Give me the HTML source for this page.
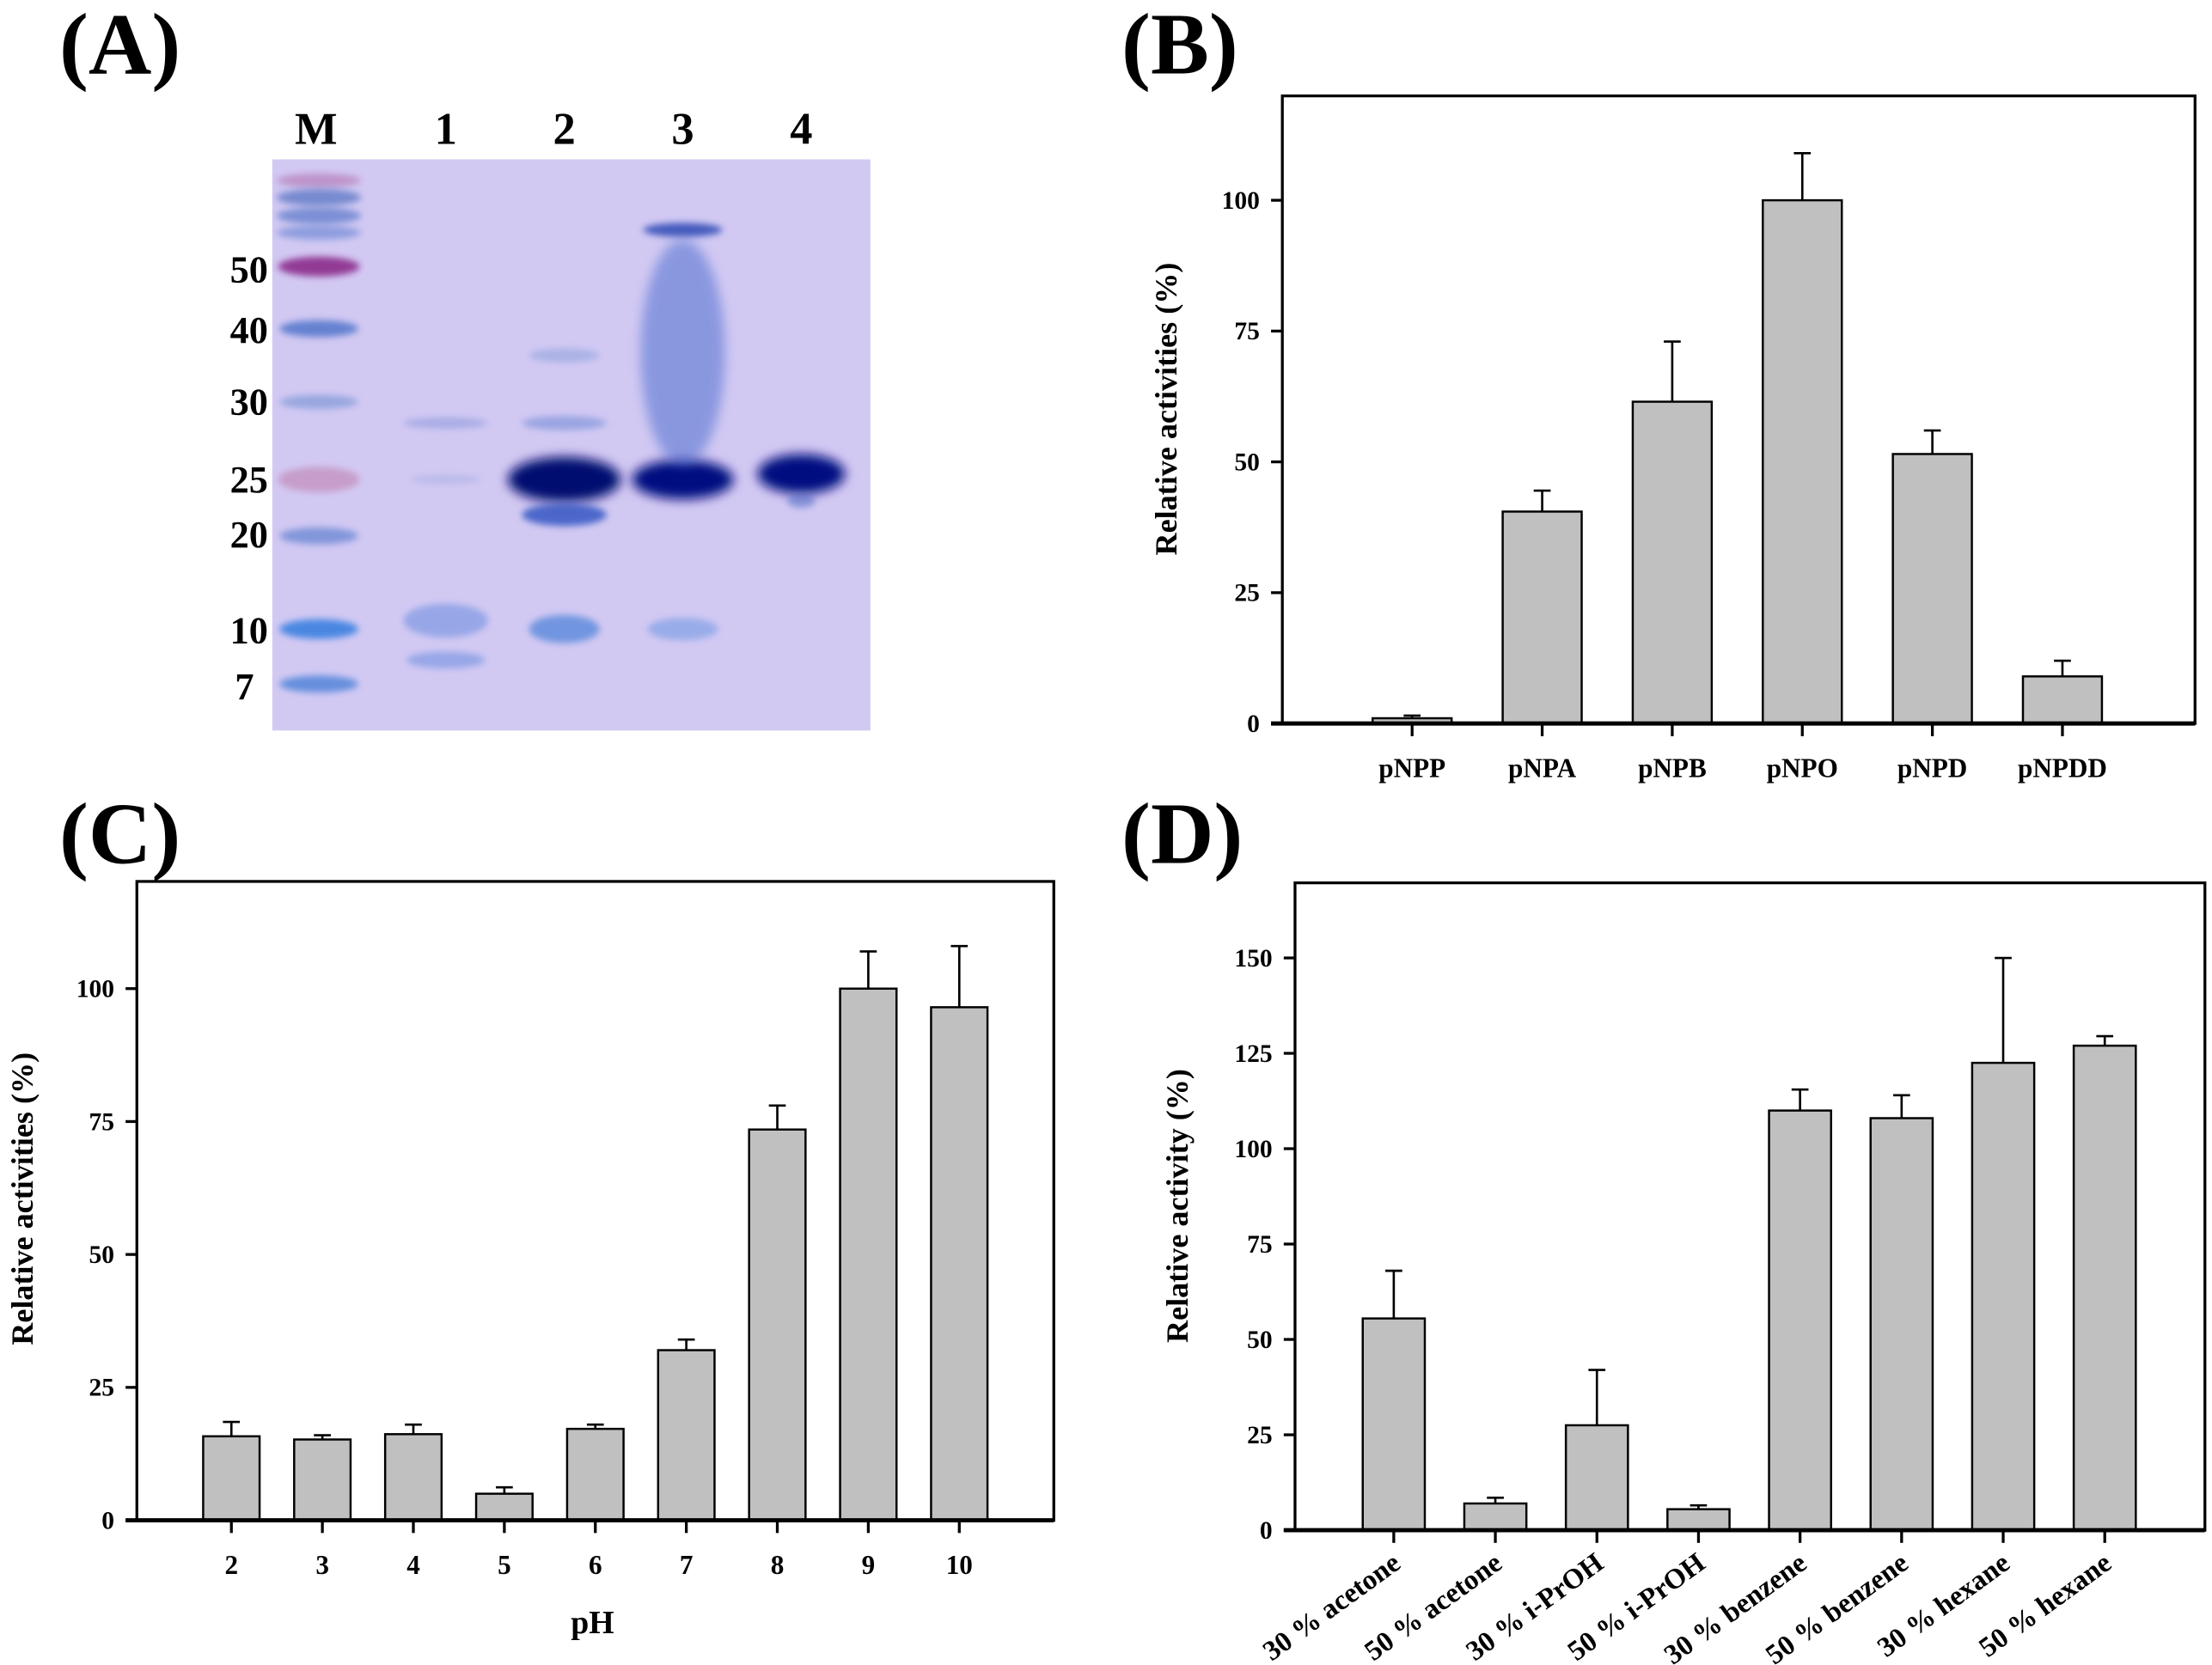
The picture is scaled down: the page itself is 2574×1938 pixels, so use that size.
<!DOCTYPE html>
<html><head><meta charset="utf-8">
<style>
html,body{margin:0;padding:0;background:#fff;}
svg{display:block;}
text{font-family:"Liberation Serif",serif;font-weight:bold;fill:#000;}
</style></head>
<body>
<svg id="fig" width="2574" height="1938" viewBox="0 0 1568 1180.6" xmlns="http://www.w3.org/2000/svg">
<defs>
<filter id="blur" x="-50%" y="-200%" width="200%" height="500%"><feGaussianBlur stdDeviation="4"/></filter>
<filter id="blur2" x="-50%" y="-200%" width="200%" height="500%"><feGaussianBlur stdDeviation="2.5"/></filter>
</defs>
<g id="panelA">
<text x="42" y="52" font-size="62">(A)</text>
<rect x="193" y="113" width="424" height="405" fill="#d2c9f3"/>
<g font-size="32" text-anchor="middle">
<text x="224" y="102">M</text><text x="316" y="102">1</text><text x="400" y="102">2</text><text x="484" y="102">3</text><text x="568" y="102">4</text>
</g>
<g font-size="27" text-anchor="end">
<text x="190" y="200">50</text><text x="190" y="243">40</text><text x="190" y="294">30</text><text x="190" y="349">25</text><text x="190" y="388">20</text><text x="190" y="456">10</text><text x="180" y="496">7</text>
</g>
<g id="bands"></g>
</g>
<text x="795" y="52" font-size="62">(B)</text>
<text x="42" y="612" font-size="62">(C)</text>
<text x="795" y="612" font-size="62">(D)</text>
<g id="chartB"></g>
<g id="chartC"></g>
<g id="chartD"></g>
</svg>
<script>
// Panel B data
const bCategories = ["pNPP","pNPA","pNPB","pNPO","pNPD","pNPDD"];
const bValues = [1, 40.5, 61.5, 100, 51.5, 9];
const bErrTop = [1.5, 44.5, 73, 109, 56, 12];
const bTicks = [0, 25, 50, 75, 100];
// Panel C data
const cCategories = ["2","3","4","5","6","7","8","9","10"];
const cValues = [15.8, 15.2, 16.2, 5, 17.2, 32, 73.5, 100, 96.5];
const cErrTop = [18.5, 16, 18, 6.2, 18, 34, 78, 107, 108];
const cTicks = [0, 25, 50, 75, 100];
// Panel D data
const dCategories = ["30 % acetone","50 % acetone","30 % i-PrOH","50 % i-PrOH","30 % benzene","50 % benzene","30 % hexane","50 % hexane"];
const dValues = [55.5, 7, 27.5, 5.5, 110, 108, 122.5, 127];
const dErrTop = [68, 8.5, 42, 6.5, 115.5, 114, 150, 129.5];
const dTicks = [0, 25, 50, 75, 100, 125, 150];

const NS = "http://www.w3.org/2000/svg";
function mk(tag, attrs, parent){const e=document.createElementNS(NS,tag);for(const k in attrs)e.setAttribute(k,attrs[k]);parent.appendChild(e);return e;}

function chart(g, o){
  const yScale = v => o.y0 - (v - 0) * (o.y0 - o.y100) / 100;
  const xScale = i => o.firstX + i * o.step;
  const frame = mk('rect',{x:o.left,y:o.top,width:o.right-o.left,height:o.y0-o.top,fill:'none',stroke:'#000','stroke-width':2},g);
  
  
  o.ticks.forEach(t=>{
    const y=yScale(t);
    const tl=mk('line',{x1:o.left-8,x2:o.left,y1:y,y2:y,stroke:'#000','stroke-width':2},g);
    
    
    const tx=mk('text',{x:o.left-16,y:y+6,'font-size':18,'text-anchor':'end'},g);
    tx.textContent=t;
    
    
  });
  o.values.forEach((v,i)=>{
    const cx=xScale(i), w=o.barW;
    const eb=mk('line',{x1:cx,x2:cx,y1:yScale(v),y2:yScale(o.err[i]),stroke:'#000','stroke-width':1.6},g);
    
    
    const ec=mk('line',{x1:cx-6,x2:cx+6,y1:yScale(o.err[i]),y2:yScale(o.err[i]),stroke:'#000','stroke-width':1.6},g);
    
    
    const b=mk('rect',{x:cx-w/2,y:yScale(v),width:w,height:o.y0-yScale(v),fill:'#c0c0c0',stroke:'#000','stroke-width':1.5},g);
    
    
    const xt=mk('line',{x1:cx,x2:cx,y1:o.y0,y2:o.y0+9,stroke:'#000','stroke-width':2},g);
    
    
    let lab;
    if(o.rotate){
      lab=mk('text',{x:cx+6,y:o.y0+26,'font-size':20,'text-anchor':'end',transform:`rotate(-36 ${cx+6} ${o.y0+26})`},g);
    } else {
      lab=mk('text',{x:cx,y:o.y0+38,'font-size':19,'text-anchor':'middle'},g);
    }
    lab.textContent=o.cats[i];
    
    
  });
  const axis=mk('line',{x1:o.left-8,x2:o.right,y1:o.y0,y2:o.y0,stroke:'#000','stroke-width':3},g);
  
  
  const yt=mk('text',{x:o.ytX,y:o.ytY,'font-size':22,'text-anchor':'middle',transform:`rotate(-90 ${o.ytX} ${o.ytY})`},g);
  yt.textContent=o.ytitle;
  
  
  if(o.xtitle){
    const xtl=mk('text',{x:o.xtX,y:o.xtY,'font-size':23,'text-anchor':'middle'},g);
    xtl.textContent=o.xtitle;
    
    
  }
}

chart(document.getElementById('chartB'),{prefix:'b',left:909,right:1556,top:68,y0:513,y100:142,firstX:1001,step:92.2,barW:56,
  values:bValues,err:bErrTop,cats:bCategories,ticks:bTicks,ytitle:'Relative activities (%)',ytX:834,ytY:290});
chart(document.getElementById('chartC'),{prefix:'c',left:97,right:747,top:625,y0:1078,y100:701,firstX:164,step:64.5,barW:40,
  values:cValues,err:cErrTop,cats:cCategories,ticks:cTicks,ytitle:'Relative activities (%)',ytX:23,ytY:850,xtitle:'pH',xtX:420,xtY:1158});
chart(document.getElementById('chartD'),{prefix:'d',left:918,right:1563,top:626,y0:1085,y100:814.5,firstX:988,step:72,barW:44,rotate:true,
  values:dValues,err:dErrTop,cats:dCategories,ticks:dTicks,ytitle:'Relative activity (%)',ytX:842,ytY:855});

// gel bands (decorative)
const bandsG=document.getElementById('bands');
const bands=[
 [226,128,60,5,'#b070b0',.6],[226,140,60,6,'#5070c0',.7],[226,153,60,6,'#5878c8',.7],[226,165,60,5,'#6080d0',.6],
 [226,189,58,7,'#8a2a8a',.9],[226,233,56,6,'#4a70c8',.8],[226,285,56,5,'#7090d0',.6],[226,340,58,9,'#c080b0',.6],
 [226,380,56,6,'#6080d0',.7],[226,446,56,7,'#3a80e0',.9],[226,485,56,6,'#4a80d8',.8],
 [316,300,60,4,'#8090d8',.5],[316,340,50,3,'#90a0d8',.4],[316,440,60,12,'#7090e0',.6],[316,468,56,6,'#7090e0',.6],
 [400,340,80,16,'#000a70',1],[400,365,60,8,'#2a50c0',.8],[400,300,60,5,'#6080d0',.5],[400,252,50,5,'#7090d0',.4],[400,446,50,10,'#4a80d8',.7],
 [484,340,72,14,'#001080',1],[484,163,56,5,'#2040b0',.8],[484,250,60,80,'#5070d0',.55],[484,446,50,8,'#6090e0',.5],
 [568,336,62,14,'#001080',1],[568,355,20,5,'#4060c0',.5]
];
bands.forEach(b=>{
  const e=mk('ellipse',{cx:b[0],cy:b[1],rx:b[2]/2,ry:b[3],fill:b[4],opacity:b[5],filter:b[3]>12?'url(#blur)':'url(#blur2)'},bandsG);
  
  
});
</script>
</body></html>
